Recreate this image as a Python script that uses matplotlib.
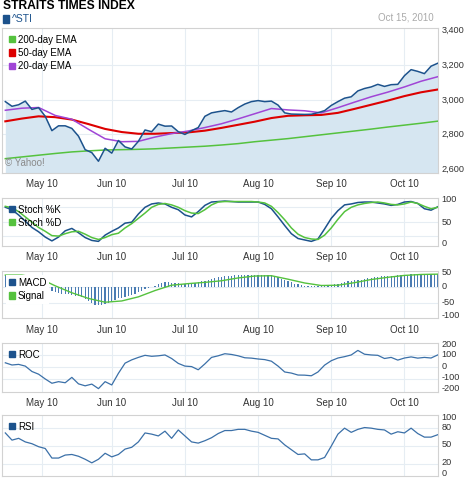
import numpy as np
import pandas as pd
import matplotlib
matplotlib.use('Agg')
import matplotlib.pyplot as plt
from matplotlib.patches import Patch, Rectangle
from matplotlib.transforms import offset_copy

plt.rcParams['font.family'] = ['Liberation Sans', 'DejaVu Sans']

# trading sessions on the chart (Apr 15 - Oct 15, 2010)
dates = pd.bdate_range('2010-04-15', '2010-10-15')
day = np.arange(len(dates))
line_days = day[1::2]   # jagged series, read every other session
ema_days = day[1::5]    # smooth averages, read every fifth session

sti_close = [2990, 2963, 2972, 2993, 2945, 2955, 2905, 2822, 2850, 2850,
             2835, 2790, 2712, 2695, 2645, 2720, 2692, 2765, 2728, 2716,
             2760, 2826, 2816, 2860, 2848, 2849, 2816, 2800, 2822, 2840,
             2905, 2925, 2932, 2938, 2930, 2955, 2976, 2990, 2996, 2990,
             2993, 2970, 2925, 2918, 2917, 2916, 2917, 2926, 2938, 2968,
             2990, 3010, 3018, 3052, 3066, 3075, 3090, 3078, 3088, 3090,
             3140, 3175, 3165, 3152, 3195, 3212]
ema200 = [2660, 2670, 2680, 2690, 2699, 2705, 2710, 2712, 2714, 2717,
          2722, 2727, 2732, 2739, 2747, 2758, 2767, 2776, 2787, 2798,
          2809, 2820, 2831, 2843, 2854, 2865, 2877]
ema50 = [2876, 2892, 2905, 2900, 2886, 2860, 2832, 2814, 2804, 2804,
         2808, 2812, 2822, 2838, 2856, 2874, 2895, 2908, 2911, 2913,
         2925, 2948, 2972, 2996, 3022, 3044, 3060]
ema20 = [2940, 2952, 2956, 2910, 2888, 2830, 2775, 2758, 2760, 2785,
         2805, 2820, 2840, 2862, 2890, 2920, 2950, 2942, 2937, 2925,
         2955, 2987, 3018, 3045, 3075, 3108, 3134]

stoch_k = [80, 75, 64, 51, 38, 29, 18, 10, 18, 31,
           36, 27, 17, 11, 9, 22, 30, 37, 47, 49,
           66, 80, 87, 89, 87, 80, 75, 64, 60, 71,
           84, 91, 92, 93, 92, 91, 91, 91, 91, 86,
           77, 60, 42, 25, 15, 12, 9, 14, 35, 57,
           73, 85, 87, 90, 91, 91, 89, 87, 84, 86,
           91, 92, 88, 77, 74, 81]
stoch_d = [82, 79, 71, 60, 49, 38, 30, 21, 20, 25,
           29, 30, 24, 17, 13, 17, 23, 26, 37, 46,
           57, 68, 80, 86, 88, 85, 80, 73, 68, 67,
           75, 85, 91, 92, 92, 92, 92, 92, 91, 89,
           82, 69, 54, 37, 24, 17, 14, 13, 22, 37,
           55, 71, 80, 85, 88, 90, 91, 89, 86, 85,
           87, 91, 88, 82, 77, 80]

macd = [38, 37, 37, 35, 32, 29, 25, 22, 17, 14,
        10, 6, 2, -3, -7, -12, -17, -20, -22, -23,
        -24, -26, -28, -30, -33, -39, -45, -50, -57, -59,
        -57, -54, -50, -45, -41, -37, -35, -32, -30, -27,
        -23, -17, -12, -8, -5, -2, 4, 10, 13, 14,
        14, 13, 12, 11, 10, 10, 10, 11, 12, 14,
        17, 19, 22, 24, 27, 30, 31, 33, 34, 35,
        36, 36, 37, 37, 37, 37, 37, 37, 37, 37,
        37, 36, 35, 31, 26, 22, 17, 14, 10, 8,
        6, 4, 3, 3, 2, 2, 2, 3, 4, 6,
        8, 10, 13, 15, 17, 18, 20, 22, 23, 25,
        27, 29, 30, 32, 33, 34, 35, 35, 35, 36,
        37, 37, 38, 40, 41, 41, 41, 40, 40, 40,
        40, 40]
signal = [37, 37, 28, 3, -19, -37, -49, -45, -32, -12,
          5, 10, 14, 19, 28, 34, 35, 24, 12, 4,
          5, 13, 23, 30, 36, 39, 40]

roc = [36, 18, 23, 9, -35, -57, -96, -131, -118, -127,
       -83, -136, -152, -138, -175, -118, -145, -50, 33, 60,
       80, 97, 89, 93, 100, 71, 31, 9, 5, -21,
       27, 80, 93, 110, 104, 93, 77, 74, 67, 62,
       49, 9, -39, -48, -64, -65, -70, -39, 17, 53,
       75, 86, 100, 137, 106, 100, 97, 71, 80, 58,
       75, 84, 74, 80, 75, 100]
rsi = [72, 60, 63, 57, 54, 49, 46, 30, 30, 35,
       36, 33, 28, 22, 28, 38, 32, 36, 45, 48,
       57, 72, 70, 67, 75, 63, 77, 67, 57, 55,
       59, 64, 71, 76, 76, 78, 78, 75, 73, 68,
       63, 62, 52, 44, 36, 37, 27, 27, 31, 50,
       70, 80, 73, 78, 81, 80, 78, 77, 70, 74,
       72, 80, 71, 65, 65, 69]

month_pos = [i for i in range(1, len(dates)) if dates[i].month != dates[i - 1].month]
month_lbl = [dates[i].strftime('%b %y') for i in month_pos]

BLUE = '#1c528c'
LBLUE = '#3b70a8'
BARC = '#4a7cb3'
GREEN = '#55c23e'
RED = '#dd0000'
PURPLE = '#a045d6'
FILL = '#d6e6f1'
GRID = '#e6edf3'
EDGE = '#d2d2d2'
TXT = '#333333'

W, H = 470, 480
fig = plt.figure(figsize=(W / 100, H / 100), dpi=100)


def panel(top, bottom):
    return fig.add_axes([2 / W, 1 - bottom / H, 435.7 / W, (bottom - top) / H])


def style(ax, ylim, ticks, labels, grid_y, shift=None, months=True):
    ax.set_xlim(0, len(dates) - 1)
    ax.set_ylim(*ylim)
    for s in ax.spines.values():
        s.set_color(EDGE)
        s.set_linewidth(0.8)
    ax.set_xticks(month_pos)
    ax.set_xticklabels(month_lbl if months else [])
    ax.tick_params(axis='x', length=0, pad=4.5, labelsize=7, colors=TXT)
    ax.set_yticks([])
    # right-hand value labels; edge labels are pulled inside the panel
    shift = shift or [0] * len(ticks)
    for v, lbl, dy in zip(ticks, labels, shift):
        tr = offset_copy(ax.get_yaxis_transform(), fig=fig, x=4, y=-dy, units='dots')
        ax.text(1, v, lbl, transform=tr, ha='left', va='center',
                fontsize=6.6, color=TXT, clip_on=False)
    for x in month_pos:
        ax.axvline(x, color=GRID, lw=0.8, zorder=0)
    for y in grid_y:
        ax.axhline(y, color=GRID, lw=0.8, zorder=0)


def legend(ax, items, white=False):
    handles = [Patch(color=c, label=l) for l, c in items]
    leg = ax.legend(handles=handles, loc='upper left', fontsize=7,
                    handlelength=0.6, handleheight=0.6, handletextpad=0.35,
                    labelspacing=0.32, borderaxespad=0.4, borderpad=0.3,
                    frameon=white, fancybox=False)
    if white:
        leg.get_frame().set_facecolor('white')
        leg.get_frame().set_edgecolor('none')
        leg.get_frame().set_alpha(1)
    leg.set_zorder(10)


# main price chart
ax = panel(28, 173)
lo = 2577
ax.fill_between(line_days, sti_close, lo, color=FILL, lw=0, zorder=1)
ax.plot(ema_days, ema200, color=GREEN, lw=1.1, zorder=3)
ax.plot(ema_days, ema50, color=RED, lw=1.5, zorder=3)
ax.plot(ema_days, ema20, color=PURPLE, lw=1.1, zorder=3)
ax.plot(line_days, sti_close, color=BLUE, lw=1.1, zorder=4)
style(ax, (lo, 3416), [2600, 2800, 3000, 3200, 3400],
      ['2,600', '2,800', '3,000', '3,200', '3,400'], [2800, 3000, 3200])
legend(ax, [('200-day EMA', GREEN), ('50-day EMA', RED), ('20-day EMA', PURPLE)])
ax.text(0.008, 0.07, '\u00a9 Yahoo!', transform=ax.transAxes, color='#8a8a8a',
        fontsize=7, va='center')

# stochastic
ax = panel(197.7, 245.7)
ax.plot(line_days, stoch_k, color=BLUE, lw=1.1, zorder=3)
ax.plot(line_days, stoch_d, color=GREEN, lw=1.1, zorder=3)
style(ax, (0, 100), [0, 50, 100], ['0', '50', '100'], [20, 50, 80],
      shift=[-1.7, 1, 2.3])
legend(ax, [('Stoch %K', BLUE), ('Stoch %D', GREEN)])

# MACD
ax = panel(271, 318.3)
ax.bar(day, macd, width=0.38, color=BARC, zorder=2)
ax.plot(ema_days, signal, color=GREEN, lw=1.0, zorder=3)
style(ax, (-100, 50), [-100, -50, 0, 50], ['-100', '-50', '0', '50'], [-50, 0],
      shift=[-2.3, -0.5, 0, 1.7])
legend(ax, [('MACD', BLUE), ('Signal', GREEN)], white=True)

# rate of change
ax = panel(342.7, 391.7)
ax.plot(line_days, roc, color=LBLUE, lw=0.9, zorder=3)
style(ax, (-200, 200), [-200, -100, 0, 100, 200],
      ['-200', '-100', '0', '100', '200'], [-100, 0, 100],
      shift=[-3.2, -1.8, -0.7, 0, 1.8])
legend(ax, [('ROC', BLUE)])

# RSI
ax = panel(415, 476)
ax.plot(line_days, rsi, color=LBLUE, lw=0.9, zorder=3)
style(ax, (0, 102), [0, 20, 50, 80, 100], ['0', '20', '50', '80', '100'],
      [20, 50, 80], shift=[-2.8, -1.2, -1.1, -0.4, 1], months=False)
legend(ax, [('RSI', BLUE)])

# header
fig.text(3 / W, 1 - 6.2 / H, 'STRAITS TIMES INDEX', fontsize=8.7, fontweight='bold',
         va='center', ha='left', color='black')
fig.add_artist(Rectangle((2.7 / W, 1 - 22.5 / H), 6.6 / W, 7.2 / H,
                         transform=fig.transFigure, color=BLUE))
fig.text(12 / W, 1 - 18.5 / H, '^STI', fontsize=7.5, va='center', ha='left', color=BLUE)
fig.text(434 / W, 1 - 18 / H, dates[-1].strftime('%b %d, %Y'), fontsize=7,
         va='center', ha='right', color='#aaaaaa')

fig.savefig('out.png', dpi=100)
